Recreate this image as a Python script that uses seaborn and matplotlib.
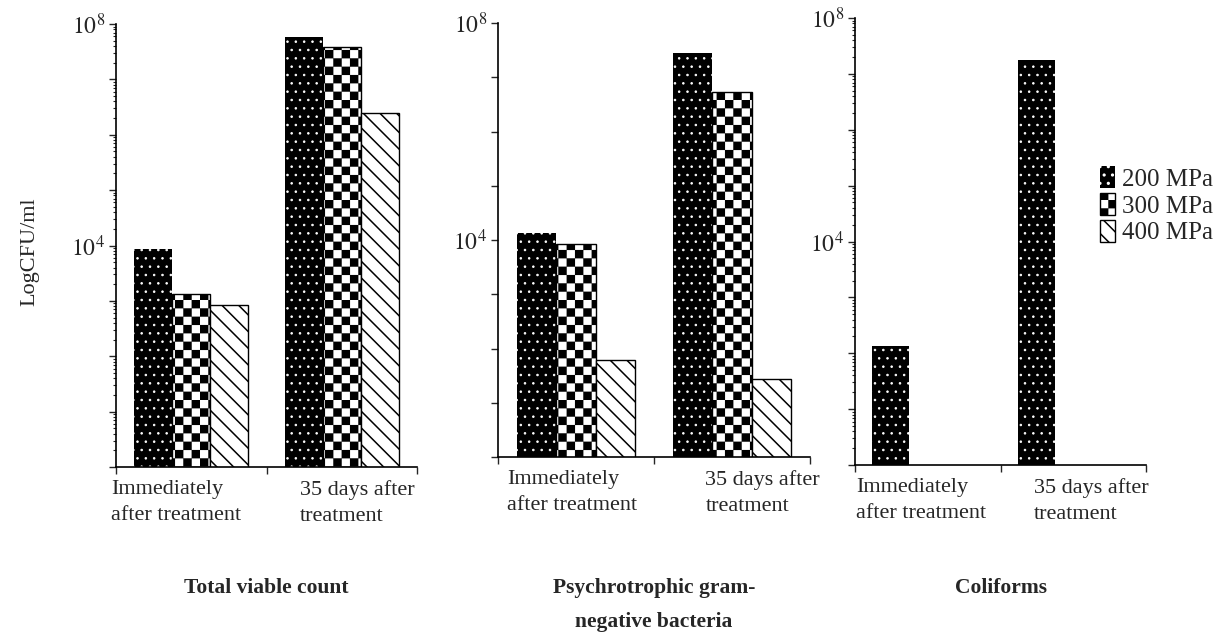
import numpy as np
import pandas as pd
import matplotlib
matplotlib.use("Agg")
import matplotlib.pyplot as plt
import matplotlib.hatch as mhatch
import matplotlib.patches as mpatches
import matplotlib.transforms as mtransforms
from matplotlib.path import Path
from matplotlib.ticker import LogLocator, FuncFormatter, NullLocator
from matplotlib.colors import to_hex
import seaborn as sns

# data (CFU/ml, log axis)
times = ["Immediately\nafter treatment", "35 days after\ntreatment"]
pressures = ["200 MPa", "300 MPa", "400 MPa"]

tvc_200 = [8500, 5.8e7]
tvc_300 = [1320, 3.8e7]
tvc_400 = [850, 2.5e6]

psy_200 = [1.35e4, 2.8e7]
psy_300 = [8500, 5.4e6]
psy_400 = [62, 27]

col_200 = [135, 1.8e7]
col_300 = [np.nan, np.nan]
col_400 = [np.nan, np.nan]

panel_titles = ["Total viable count", "Psychrotrophic gram-\nnegative bacteria", "Coliforms"]


# checkerboard hatch, hooked onto the 'O' hatch letter
class CheckerHatch(mhatch.HatchPatternBase):
    def __init__(self, hatch, density):
        self.cells = hatch.count("O") * 12
        self.num_vertices = (self.cells * self.cells // 2) * 5

    def set_vertices_and_codes(self, vertices, codes):
        n = self.cells
        s = 1.0 / n
        g = 0.007
        k = 0
        for i in range(n):
            for j in range(n):
                if (i + j) % 2 == 0:
                    x0, y0, x1, y1 = i * s + g, j * s + g, (i + 1) * s - g, (j + 1) * s - g
                    vertices[k:k + 5] = [(x0, y0), (x1, y0), (x1, y1), (x0, y1), (x0, y0)]
                    codes[k:k + 5] = [Path.MOVETO, Path.LINETO, Path.LINETO, Path.LINETO, Path.CLOSEPOLY]
                    k += 5


mhatch._hatch_types = [t for t in mhatch._hatch_types if t is not mhatch.LargeCircles] + [CheckerHatch]

sns.set_style("ticks")
plt.rcParams["font.family"] = ["Liberation Serif", "DejaVu Serif"]
plt.rcParams["mathtext.fontset"] = "stix"
plt.rcParams["hatch.linewidth"] = 1.1

styles = {
    "200 MPa": dict(facecolor="black", edgecolor="white", hatch="..", linewidth=0),
    "300 MPa": dict(facecolor="white", edgecolor="black", hatch="O", linewidth=1.0),
    "400 MPa": dict(facecolor="white", edgecolor="black", hatch="\\\\", linewidth=1.0),
}
dot_hatch_lw = 0.6
key_colors = {"200 MPa": "#ff0000", "300 MPa": "#00ff00", "400 MPa": "#0000ff"}
color_to_level = {to_hex(c): k for k, c in key_colors.items()}

panels = [
    (tvc_200, tvc_300, tvc_400),
    (psy_200, psy_300, psy_400),
    (col_200, col_300, col_400),
]
# axes boxes in pixels: left, right, top, bottom
boxes = [(116, 417, 24, 467), (498, 810, 23, 457), (855, 1146, 18, 465)]
label_offsets = [(-0.03, 0.22), (0.06, 0.33), (0.01, 0.23)]
W, H = 1225, 636

fig = plt.figure(figsize=(12.25, 6.36), dpi=100)


def style_patch(patch, level):
    st = styles[level]
    patch.set_facecolor(st["facecolor"])
    patch.set_edgecolor(st["edgecolor"])
    patch.set_linewidth(st["linewidth"])
    patch.set_hatch(st["hatch"])
    if level == "200 MPa" and hasattr(patch, "set_hatch_linewidth"):
        patch.set_hatch_linewidth(dot_hatch_lw)


for p, (vals, box, offs, title) in enumerate(zip(panels, boxes, label_offsets, panel_titles)):
    l, r, t, b = box
    ax = fig.add_axes([l / W, 1 - b / H, (r - l) / W, (b - t) / H])
    ax.set_yscale("log")
    df = pd.DataFrame({
        "time": times * 3,
        "pressure": [pr for pr in pressures for _ in times],
        "cfu": list(vals[0]) + list(vals[1]) + list(vals[2]),
    })
    sns.barplot(data=df, x="time", y="cfu", hue="pressure", order=times,
                hue_order=pressures, palette=key_colors, width=0.76,
                legend=False, ax=ax, saturation=1)
    for patch in ax.patches:
        level = color_to_level.get(to_hex(patch.get_facecolor()))
        if level is not None:
            style_patch(patch, level)

    ax.set_ylim(1, 1e8)
    ax.set_xlim(-0.5, 1.5)
    ax.set_xlabel("")
    ax.set_ylabel("")
    ax.set_xticks([-0.5, 0.5, 1.5])
    ax.set_xticklabels([])
    ax.yaxis.set_major_locator(LogLocator(base=10, numticks=20))
    ax.yaxis.set_major_formatter(FuncFormatter(
        lambda v, pos: r"$10^{%d}$" % round(np.log10(v)) if round(np.log10(v)) in (4, 8) else ""))
    if p == 1:
        ax.yaxis.set_minor_locator(NullLocator())
    else:
        ax.yaxis.set_minor_locator(LogLocator(base=10, subs=np.arange(2, 10), numticks=20))
    ax.tick_params(axis="y", which="major", length=5, width=1.0, labelsize=17, pad=3, direction="out")
    ax.tick_params(axis="y", which="minor", length=2.5, width=0.8, direction="out")
    ax.tick_params(axis="x", length=5, width=1.0, direction="out")
    for side in ("top", "right"):
        ax.spines[side].set_visible(False)
    for side in ("left", "bottom"):
        ax.spines[side].set_linewidth(1.2)
        ax.spines[side].set_color("black")

    trans = mtransforms.blended_transform_factory(ax.transData, ax.transAxes)
    for i, lab in enumerate(times):
        ax.text(i - 0.5 + offs[i], -0.03, lab, transform=trans, ha="left", va="top",
                fontsize=16, linespacing=1.5)

    fig.text((l + r) / 2 / W, 1 - 578 / H, title, ha="center", va="top",
             fontsize=15.5, fontweight="bold", linespacing=1.95)

fig.text(30 / W, 1 - 252 / H, "LogCFU/ml", rotation=90, ha="center", va="center", fontsize=16)

handles = []
for k in pressures:
    h = mpatches.Patch(label=k, **styles[k])
    if k == "200 MPa" and hasattr(h, "set_hatch_linewidth"):
        h.set_hatch_linewidth(dot_hatch_lw)
    handles.append(h)
fig.legend(handles=handles, loc="upper left", bbox_to_anchor=(1100 / W, 1 - 166 / H),
           frameon=False, handlelength=0.6, handleheight=1.0, handletextpad=0.3,
           labelspacing=0.08, fontsize=18, borderaxespad=0, borderpad=0)

fig.savefig("out.png", dpi=100)
